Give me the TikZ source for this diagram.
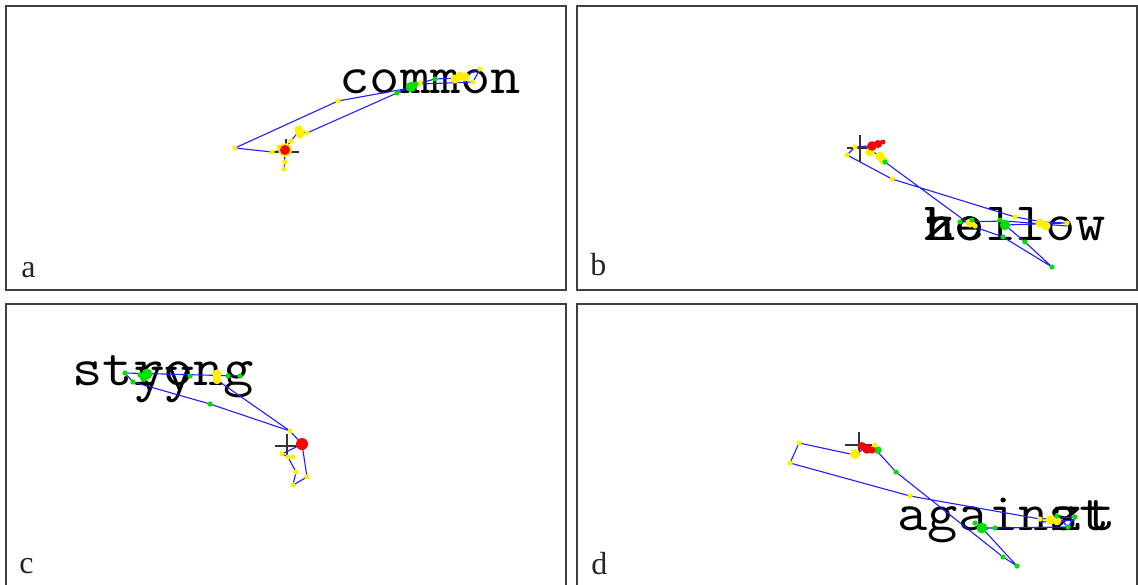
\documentclass[tikz,border=0pt]{standalone}
\usepackage{fontspec}
\setmainfont{Liberation Serif}
\definecolor{trajblue}{RGB}{30,30,255}
\definecolor{dotyellow}{RGB}{255,240,0}
\definecolor{dotgreen}{RGB}{0,225,0}
\definecolor{dotred}{RGB}{255,0,0}
\definecolor{frame}{RGB}{64,64,64}
\newcommand{\mw}[1]{\scalebox{1.09}[1]{#1}}
\begin{document}
\begin{tikzpicture}[x=0.5pt,y=-0.5pt,
  panel/.style={draw=frame,line width=0.8pt},
  word/.style={font=\ttfamily\fontsize{27}{27}\selectfont,inner sep=0pt,anchor=base west,text=black},
  lbl/.style={font=\fontsize{16}{16}\selectfont,inner sep=0pt,anchor=base west,text=black!85},
  traj/.style={draw=trajblue,line width=0.55pt,line join=round},
  crossline/.style={draw=black!80,line width=0.6pt},
  ydot/.style={fill=dotyellow},
  gdot/.style={fill=dotgreen},
  rdot/.style={fill=dotred}]
\useasboundingbox (0,0) rectangle (1138,584);
\fill[white] (0,0) rectangle (1138,584);
% panels
\draw[panel] (6,6) rectangle (566,290);
\draw[panel] (577,6) rectangle (1137,290);
\draw[panel] (6,304) rectangle (566,600);
\draw[panel] (577,304) rectangle (1137,600);
% panel labels
\node[lbl] (la) at (21,277) {a};
\node[lbl] (lb) at (590,275) {b};
\node[lbl] (lc) at (19,573) {c};
\node[lbl] (ld) at (591,574) {d};
% words
\node[word] (wa) at (339,93) {\mw{common}};
\node[word] (wb) at (924,240) {\mw{hollow}};
\node[word] (wb2) at (924,240) {\mw{ze}};
\node[word] (wb3) at (925.5,240) {\mw{h}};
\node[word] (wc) at (72,385) {\mw{strong}};
\node[word] (wc2) at (134,390) {\mw{yy}};
\node[word] (wd) at (897,530) {\mw{against}};
\node[word] (wd2) at (1052.5,530) {\mw{z}};
\node[word] (wd3) at (1085.5,530) {\mw{t}};

% ---------- panel a ----------
\draw[traj] (284,168) -- (285,162) -- (284,150) -- (291,141) -- (299,131) -- (307,133) -- (397,93) -- (412,86) -- (420,83) -- (435,79) -- (458,78) -- (480,69) -- (473,82) -- (420,84) -- (410,88) -- (338,101) -- (235,148) -- (272,152) -- (284,150);
\draw[crossline] (274,152) -- (299,152) (286,139) -- (286,150);
\foreach \p in {(235,148),(272,152),(338,101),(279,147),(291,141),(307,133),(285,162),(284,169),(420,83),(480,69),(473,82)}
  \fill[ydot] \p circle (1.3pt);
\foreach \p in {(299,130),(300,134),(455,79),(460,76),(465,77)}
  \fill[ydot] \p circle (2.3pt);
\foreach \p in {(397,93),(435,79),(416,84)}
  \fill[gdot] \p circle (1.3pt);
\fill[gdot] (411,87) circle (2.6pt);
\fill[ydot] (285,150) circle (3.4pt);
\fill[rdot] (285,150) circle (2.5pt);

% ---------- panel b ----------
\draw[traj] (878,143) -- (868,148) -- (882,158) -- (885,162) -- (972,226) -- (1003,237) -- (1052,267) -- (1025,242) -- (1005,225) -- (1067,223) -- (1043,222) -- (1015,217) -- (892,179) -- (847,155) -- (855,147) -- (868,146);
\draw[traj] (960,222) -- (1005,221) -- (1067,226);
\draw[crossline] (847,148) -- (873,148) (860,135) -- (860,162);
\foreach \p in {(855,147),(847,155),(892,179),(1015,217),(1067,223),(975,226)}
  \fill[ydot] \p circle (1.3pt);
\foreach \p in {(870,152),(880,156),(883,160),(1040,223),(1046,226),(970,223)}
  \fill[ydot] \p circle (2.3pt);
\foreach \p in {(885,162),(960,222),(972,220),(1000,220),(1003,237),(1025,242),(1052,267)}
  \fill[gdot] \p circle (1.3pt);
\fill[gdot] (1005,225) circle (2.6pt);
\fill[rdot] (872,146) circle (2.4pt);
\fill[rdot] (878,144) circle (2pt);
\fill[rdot] (883,142) circle (1.2pt);

% ---------- panel c ----------
\draw[traj] (240,376) -- (125,373) -- (133,382) -- (210,404) -- (290,431) -- (302,444) -- (307,477) -- (293,485) -- (296,472) -- (288,457) -- (282,454) -- (302,444);
\draw[traj] (217,380) -- (290,431);
\draw[crossline] (275,446) -- (299,446) (287,434) -- (287,456);
\foreach \p in {(290,431),(282,454),(288,457),(293,457),(296,472),(307,477),(293,485)}
  \fill[ydot] \p circle (1.3pt);
\fill[ydot] (217,374) circle (2.3pt);
\fill[ydot] (217,380) circle (2.1pt);
\foreach \p in {(125,373),(133,382),(140,375),(190,376),(228,376),(240,376),(210,404)}
  \fill[gdot] \p circle (1.3pt);
\fill[gdot] (147,374) circle (2.7pt);
\fill[gdot] (144,378) circle (2pt);
\fill[rdot] (302,444) circle (3pt);

% ---------- panel d ----------
\draw[traj] (865,448) -- (855,455) -- (799,443) -- (790,463) -- (910,496) -- (1040,519) -- (1075,517) -- (1068,527) -- (995,528) -- (982,528) -- (1017,566) -- (1003,557) -- (896,472) -- (877,451);
\draw[traj] (1057,516) -- (1068,527) (1040,522) -- (1075,520);
\draw[crossline] (845,445) -- (872,445) (859,432) -- (859,455);
\foreach \p in {(875,445),(799,443),(790,463),(910,496),(1040,519)}
  \fill[ydot] \p circle (1.3pt);
\fill[ydot] (855,454) circle (2.5pt);
\fill[ydot] (1050,520) circle (2.4pt);
\fill[ydot] (1057,521) circle (2.2pt);
\foreach \p in {(877,451),(896,472),(975,523),(995,528),(1057,516),(1075,517),(1068,527),(1003,557),(1017,566)}
  \fill[gdot] \p circle (1.3pt);
\fill[gdot] (982,528) circle (2.7pt);
\fill[gdot] (878,450) circle (1.8pt);
\fill[rdot] (862,446) circle (2pt);
\fill[rdot] (867,449) circle (2.4pt);
\fill[rdot] (872,450) circle (1.8pt);
\end{tikzpicture}
\end{document}
